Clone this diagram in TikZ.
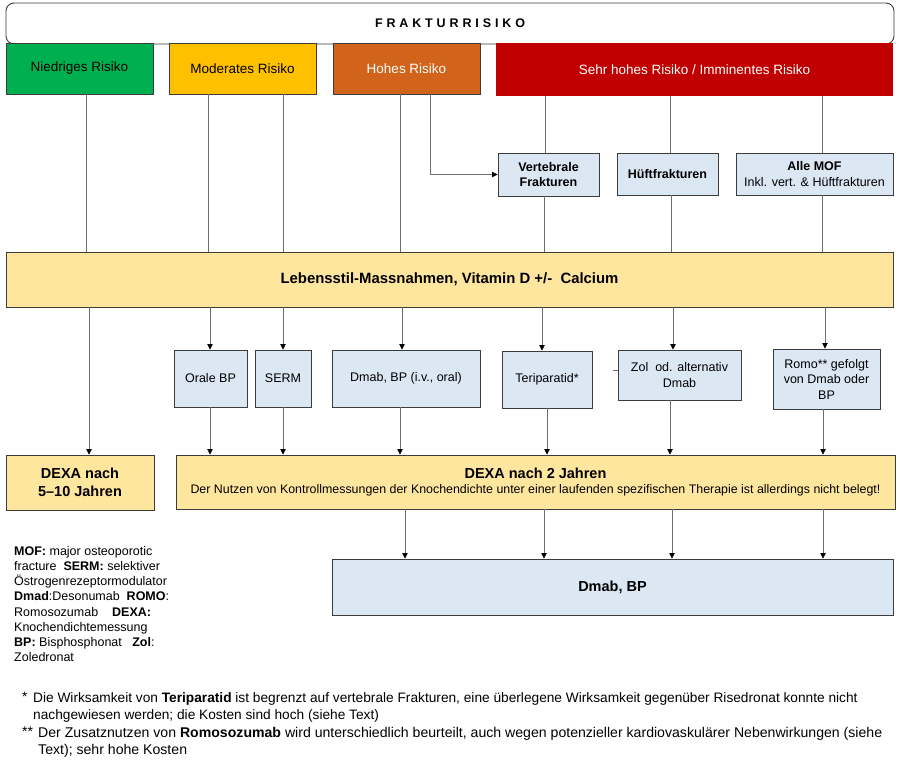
\documentclass[tikz,border=0pt]{standalone}
\usepackage{fontspec}
\setmainfont{Liberation Sans}
\newfontfamily\spacedfont[LetterSpace=31]{Liberation Sans}
\usetikzlibrary{arrows.meta}
\definecolor{riskgreen}{RGB}{0, 176, 80}
\definecolor{riskyellow}{RGB}{255, 192, 0}
\definecolor{riskorange}{RGB}{209, 99, 27}
\definecolor{riskred}{RGB}{192, 0, 0}
\definecolor{paleblue}{RGB}{220, 231, 244}
\definecolor{paleyellow}{RGB}{255, 230, 158}
\definecolor{boxline}{RGB}{60, 60, 60}
\definecolor{linkgray}{RGB}{110, 110, 110}
\tikzset{
    box/.style={draw=boxline, line width=0.9pt, inner sep=2pt, align=center,
        font=\fontsize{12.5}{15.5}\selectfont},
    riskbox/.style={box, minimum width=147pt, minimum height=51pt,
        font=\fontsize{13.5}{15}\selectfont},
    bluebox/.style={box, fill=paleblue},
    yellowbox/.style={box, fill=paleyellow},
    link/.style={draw=linkgray, line width=0.7pt},
    arrow/.style={link, -{Triangle[width=5.5pt, length=5.5pt, color=black]}},
}

\begin{document}
\begin{tikzpicture}[x=1pt, y=-1pt]
    \useasboundingbox[fill=white] (0, 0) rectangle (900, 764);
    \node[draw=boxline, line width=0.9pt, rounded corners=8pt, minimum width=888pt,
        minimum height=41pt] (kopf) at (450, 23.5)
        {\spacedfont\fontsize{12.5}{15}\selectfont\bfseries FRAKTURRISIKO};
    % risk levels
    \node[riskbox, fill=riskgreen] (niedrig) at (79.5, 68.5) {Niedriges Risiko};
    \node[riskbox, fill=riskyellow] (moderat) at (242.5, 68.5) {Moderates Risiko};
    \node[riskbox, fill=riskorange, text=white] (hoch) at (406.5, 68.5) {Hohes Risiko};
    \node[riskbox, draw=none, fill=riskred, text=white, minimum width=397pt,
        minimum height=53pt] (sehrhoch) at (694.5, 69.5)
        {Sehr hohes Risiko / Imminentes Risiko};
    % fracture types
    \node[bluebox, font=\fontsize{12.5}{15.5}\selectfont\bfseries, minimum width=101pt,
        minimum height=43pt] (vert) at (548.5, 174.5) {Vertebrale\\Frakturen};
    \node[bluebox, font=\fontsize{12.5}{15.5}\selectfont\bfseries, minimum width=101pt,
        minimum height=42pt] (hueft) at (667.5, 174) {Hüftfrakturen};
    \node[bluebox, minimum width=157pt, minimum height=42pt] (mof) at (814.5, 174)
        {\textbf{Alle MOF}\\Inkl. vert. \& Hüftfrakturen};
    \node[yellowbox, font=\fontsize{14.9}{17}\selectfont\bfseries, minimum width=887pt,
        minimum height=55pt] (leben) at (449.5, 279.5)
        {Lebensstil-Massnahmen, Vitamin D +/-\ \ Calcium};
    % treatments
    \node[bluebox, minimum width=73pt, minimum height=57pt] (oralbp) at (210.5, 378.5)
        {Orale BP};
    \node[bluebox, minimum width=56pt, minimum height=57pt] (serm) at (283, 378.5)
        {SERM};
    \node[bluebox, minimum width=148pt, minimum height=57pt] (dmabbp) at (406, 378.5)
        {Dmab, BP (i.v., oral)};
    \node[bluebox, minimum width=90pt, minimum height=57pt] (teri) at (547, 379.5)
        {Teriparatid*};
    \node[bluebox, minimum width=123pt, minimum height=50pt] (zol) at (679.5, 375)
        {Zol\ \ od. alternativ\\Dmab};
    \node[bluebox, minimum width=107pt, minimum height=60pt] (romo) at (826.5, 379)
        {Romo** gefolgt\\von Dmab oder\\BP};
    % monitoring
    \node[yellowbox, font=\fontsize{14.5}{18}\selectfont\bfseries, minimum width=148pt,
        minimum height=55pt] (dexafuenf) at (80, 482.5) {DEXA nach\\5--10 Jahren};
    \node[yellowbox, font=\fontsize{12.4}{15}\selectfont, minimum width=719pt,
        minimum height=54pt] (dexazwei) at (535.5, 482)
        {{\fontsize{14.5}{15}\selectfont\bfseries DEXA nach 2 Jahren}\\
        Der Nutzen von Kontrollmessungen der Knochendichte unter einer laufenden
        spezifischen Therapie ist allerdings nicht belegt!};
    \node[bluebox, font=\fontsize{14.5}{17}\selectfont\bfseries, minimum width=561pt,
        minimum height=56pt] (dmabend) at (612.5, 587) {Dmab, BP};

    % connectors
    \foreach \xx/\a/\b in {86/niedrig/leben, 208/moderat/leben, 283/moderat/leben,
        400/hoch/leben, 545/sehrhoch/vert, 670/sehrhoch/hueft, 822/sehrhoch/mof,
        544/vert/leben, 671/hueft/leben, 822/mof/leben}
        \draw[link] (\xx, 0 |- \a.south) -- (\xx, 0 |- \b.north);
    \draw[arrow] (430, 0 |- hoch.south) |- (vert.west);
    \foreach \xx/\a/\b in {89/leben/dexafuenf, 210/leben/oralbp, 283/leben/serm,
        402/leben/dmabbp, 542/leben/teri, 673/leben/zol, 825/leben/romo,
        210/oralbp/dexazwei, 283/serm/dexazwei, 400/dmabbp/dexazwei,
        547/teri/dexazwei, 670/zol/dexazwei, 823/romo/dexazwei,
        405/dexazwei/dmabend, 544/dexazwei/dmabend, 672/dexazwei/dmabend,
        823/dexazwei/dmabend}
        \draw[arrow] (\xx, 0 |- \a.south) -- (\xx, 0 |- \b.north);
    \coordinate (stub) at (613, 370);
    \draw[link] (stub) -- (stub -| zol.west);

    % legend and notes
    \node[anchor=north west, inner sep=0pt, align=left,
        font=\fontsize{12.5}{15.2}\selectfont] (legende) at (14, 546)
        {\textbf{MOF:} major osteoporotic\\
        fracture\ \ \textbf{SERM:} selektiver\\
        Östrogenrezeptormodulator\\
        \textbf{Dmad}:Desonumab\ \ \textbf{ROMO}:\\
        Romosozumab\ \ \ \ \textbf{DEXA:}\\
        Knochendichtemessung\\
        \textbf{BP:} Bisphosphonat\ \ \ \textbf{Zol}:\\
        Zoledronat};
    \node[anchor=north west, inner sep=0pt, font=\fontsize{13.7}{17}\selectfont]
        (sterneins) at (22, 692) {*};
    \node[anchor=north west, inner sep=0pt, align=left,
        font=\fontsize{13.7}{17}\selectfont] (notiz1) at (33, 692)
        {Die Wirksamkeit von \textbf{Teriparatid} ist begrenzt auf vertebrale Frakturen,
        eine überlegene Wirksamkeit gegenüber Risedronat konnte nicht\\
        nachgewiesen werden; die Kosten sind hoch (siehe Text)};
    \node[anchor=north west, inner sep=0pt, font=\fontsize{14.1}{17}\selectfont]
        (sternzwei) at (22, 727) {**};
    \node[anchor=north west, inner sep=0pt, align=left,
        font=\fontsize{14.1}{17}\selectfont] (notiz2) at (38, 727)
        {Der Zusatznutzen von \textbf{Romosozumab} wird unterschiedlich beurteilt, auch
        wegen potenzieller kardiovaskulärer Nebenwirkungen (siehe\\
        Text); sehr hohe Kosten};
\end{tikzpicture}
\end{document}
